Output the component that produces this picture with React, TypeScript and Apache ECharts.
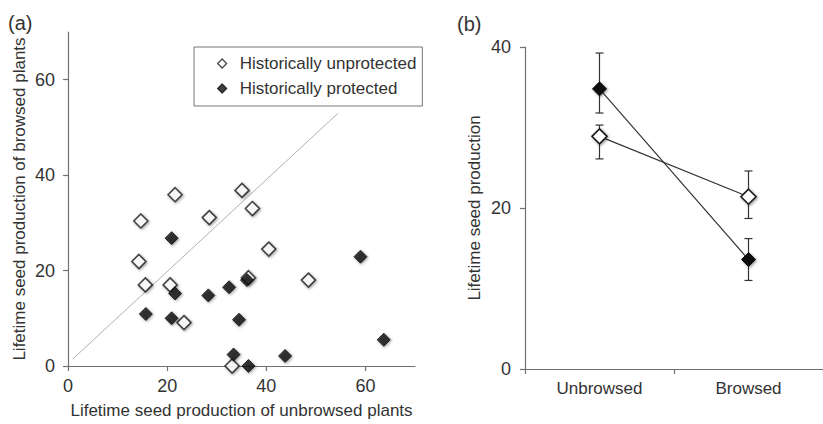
import React, { useEffect, useRef } from "react";
import * as echarts from "echarts";

// Panel (a): scatter of lifetime seed production
const unprotectedX = [14.7, 21.6, 35.1, 37.2, 28.5, 14.3, 15.6, 20.6, 23.4, 40.5, 36.4, 48.5, 33.1];
const unprotectedY = [30.4, 35.9, 36.8, 33.0, 31.1, 21.9, 17.0, 17.0, 9.1, 24.5, 18.5, 18.0, 0];
const protectedX = [20.9, 21.6, 15.7, 20.9, 28.3, 32.5, 36.1, 34.5, 33.4, 36.4, 43.8, 59.0, 63.7];
const protectedY = [26.8, 15.2, 10.9, 10.0, 14.8, 16.5, 18.0, 9.7, 2.4, 0, 2.1, 22.9, 5.5];
const oneToOneLine = [
  [1, 1.5],
  [54.5, 53],
];
const scatterTicks = [0, 20, 40, 60];

// Panel (b): means with error bars
const categories = ["Unbrowsed", "Browsed"];
const meanUnprotected = [28.9, 21.4];
const lowUnprotected = [26.1, 18.7];
const highUnprotected = [30.3, 24.6];
const meanProtected = [34.8, 13.6];
const lowProtected = [31.8, 11.0];
const highProtected = [39.25, 16.2];

const FONT = '"Liberation Sans", Arial, Helvetica, sans-serif';
const TEXT = "#333";
const AXIS = "#707070";

export default function App() {
  const ref = useRef<HTMLDivElement>(null);

  useEffect(() => {
    if (!ref.current) return;
    const chart = echarts.init(ref.current, null, { renderer: "svg" });

    const shadow = {
      shadowBlur: 3,
      shadowColor: "rgba(0,0,0,0.45)",
      shadowOffsetX: 1,
      shadowOffsetY: 1,
    };
    const openStyle = { color: "#fff", borderColor: "#1a1a1a", borderWidth: 1.6, ...shadow };
    const filledStyle = { color: "#111", borderColor: "#111", borderWidth: 1, ...shadow };

    const axisLine = { show: true, lineStyle: { color: AXIS, width: 1.2 } };
    const axisTick = { show: true, length: 5, lineStyle: { color: AXIS, width: 1.2 } };

    const errRender = (params: any, api: any) => {
      const x = api.value(0);
      const pLo = api.coord([x, api.value(1)]);
      const pHi = api.coord([x, api.value(2)]);
      const hw = 4;
      const style = { stroke: "#333", lineWidth: 1.2 };
      return {
        type: "group",
        children: [
          { type: "line", shape: { x1: pLo[0], y1: pLo[1], x2: pHi[0], y2: pHi[1] }, style },
          { type: "line", shape: { x1: pLo[0] - hw, y1: pLo[1], x2: pLo[0] + hw, y2: pLo[1] }, style },
          { type: "line", shape: { x1: pHi[0] - hw, y1: pHi[1], x2: pHi[0] + hw, y2: pHi[1] }, style },
        ],
      };
    };

    chart.setOption({
      animation: false,
      textStyle: { fontFamily: FONT },
      grid: [
        { left: 68, top: 32, width: 347, height: 337 },
        { left: 525, top: 47, width: 309, height: 322 },
      ],
      xAxis: [
        {
          gridIndex: 0,
          type: "value",
          min: 0,
          max: 70,
          interval: 10,
          splitLine: { show: false },
          axisLine,
          axisTick: { ...axisTick, customValues: scatterTicks },
          axisLabel: { customValues: scatterTicks, fontSize: 18, color: TEXT, margin: 11, fontFamily: FONT },
          name: "Lifetime seed production of unbrowsed plants",
          nameLocation: "middle",
          nameGap: 36,
          nameTextStyle: { fontSize: 17, color: TEXT, fontFamily: FONT },
        },
        {
          gridIndex: 1,
          type: "category",
          data: categories,
          boundaryGap: true,
          splitLine: { show: false },
          axisLine,
          axisTick: { ...axisTick, alignWithLabel: false },
          axisLabel: { fontSize: 17, color: TEXT, margin: 11, fontFamily: FONT },
        },
      ],
      yAxis: [
        {
          gridIndex: 0,
          type: "value",
          min: 0,
          max: 70,
          interval: 10,
          splitLine: { show: false },
          axisLine,
          axisTick: { ...axisTick, customValues: scatterTicks },
          axisLabel: { customValues: scatterTicks, fontSize: 18, color: TEXT, margin: 13, fontFamily: FONT },
          name: "Lifetime seed production of browsed plants",
          nameLocation: "middle",
          nameGap: 40,
          nameTextStyle: { fontSize: 17, color: TEXT, fontFamily: FONT },
        },
        {
          gridIndex: 1,
          type: "value",
          min: 0,
          max: 40,
          interval: 20,
          splitLine: { show: false },
          axisLine,
          axisTick,
          axisLabel: { fontSize: 18, color: TEXT, margin: 14, fontFamily: FONT },
          name: "Lifetime seed production",
          nameLocation: "middle",
          nameGap: 42,
          nameTextStyle: { fontSize: 17, color: TEXT, fontFamily: FONT },
        },
      ],
      legend: {
        data: [
          { name: "Historically unprotected", icon: "diamond" },
          { name: "Historically protected", icon: "diamond" },
        ],
        orient: "vertical",
        left: 194,
        top: 47,
        itemWidth: 9,
        itemHeight: 9,
        itemGap: 8,
        padding: [8, 6, 9, 23],
        borderColor: "#777",
        borderWidth: 1,
        selectedMode: false,
        itemStyle: { shadowBlur: 0, shadowOffsetX: 0, shadowOffsetY: 0, borderWidth: 1.3 },
        textStyle: { fontSize: 17, color: TEXT, fontFamily: FONT, padding: [0, 0, 0, 8] },
      },
      graphic: [
        { type: "text", left: 8, top: 13, style: { text: "(a)", fontSize: 20, fill: TEXT, fontFamily: FONT } },
        { type: "text", left: 457, top: 14, style: { text: "(b)", fontSize: 20, fill: TEXT, fontFamily: FONT } },
      ],
      series: [
        {
          name: "1:1",
          type: "line",
          xAxisIndex: 0,
          yAxisIndex: 0,
          data: oneToOneLine,
          symbol: "none",
          lineStyle: { color: "#a8a8a8", width: 0.9 },
          z: 1,
        },
        {
          name: "Historically unprotected",
          type: "scatter",
          xAxisIndex: 0,
          yAxisIndex: 0,
          data: unprotectedX.map((x, i) => [x, unprotectedY[i]]),
          symbol: "diamond",
          symbolSize: 14,
          itemStyle: openStyle,
          z: 3,
        },
        {
          name: "Historically protected",
          type: "scatter",
          xAxisIndex: 0,
          yAxisIndex: 0,
          data: protectedX.map((x, i) => [x, protectedY[i]]),
          symbol: "diamond",
          symbolSize: 13,
          itemStyle: filledStyle,
          z: 4,
        },
        {
          name: "err-unprotected",
          type: "custom",
          xAxisIndex: 1,
          yAxisIndex: 1,
          renderItem: errRender,
          encode: { x: 0, y: [1, 2] },
          data: categories.map((_, i) => [i, lowUnprotected[i], highUnprotected[i]]),
          z: 2,
        },
        {
          name: "err-protected",
          type: "custom",
          xAxisIndex: 1,
          yAxisIndex: 1,
          renderItem: errRender,
          encode: { x: 0, y: [1, 2] },
          data: categories.map((_, i) => [i, lowProtected[i], highProtected[i]]),
          z: 2,
        },
        {
          name: "Unprotected mean",
          type: "line",
          xAxisIndex: 1,
          yAxisIndex: 1,
          data: meanUnprotected,
          symbol: "diamond",
          symbolSize: 15,
          lineStyle: { color: "#333", width: 1.2 },
          itemStyle: openStyle,
          z: 3,
        },
        {
          name: "Protected mean",
          type: "line",
          xAxisIndex: 1,
          yAxisIndex: 1,
          data: meanProtected,
          symbol: "diamond",
          symbolSize: 14,
          lineStyle: { color: "#333", width: 1.2 },
          itemStyle: filledStyle,
          z: 4,
        },
      ],
    });

    return () => chart.dispose();
  }, []);

  return (
    <div
      ref={ref}
      style={{ position: "fixed", left: 0, top: 0, width: 823, height: 424, background: "#fff" }}
    />
  );
}
